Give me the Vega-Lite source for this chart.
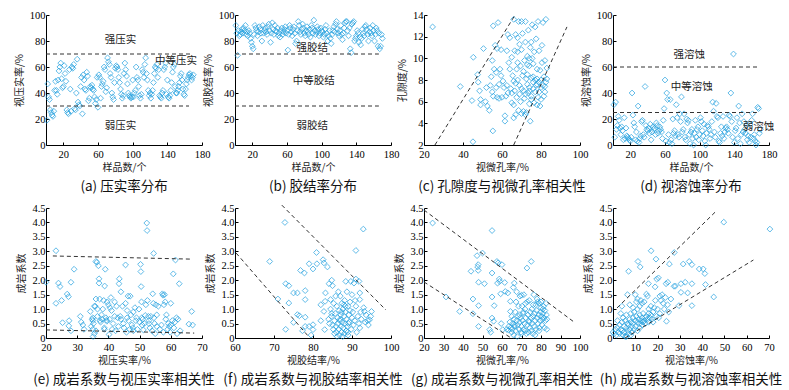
{
"$schema":"https://vega.github.io/schema/vega-lite/v6.json",
"background":"white",
"padding":{"left":14,"top":10,"right":5,"bottom":5},
"config":{
"view":{"stroke":null},
"font":"Liberation Serif",
"axis":{"grid":false,"domainColor":"#000","tickColor":"#000","tickSize":-3,"labelFont":"Liberation Serif","labelFontSize":10.5,"labelColor":"#000","titleFont":"Noto Sans CJK SC","titleFontSize":10,"titleFontWeight":"normal","titleColor":"#222","labelPadding":4},
"axisX":{"titlePadding":3,"labelPadding":7},
"axisY":{"titlePadding":5},
"title":{"font":"Noto Sans CJK SC","fontSize":13.5,"fontWeight":"normal","color":"#111","orient":"bottom","offset":7},
"text":{"font":"Noto Sans CJK SC","fontSize":10.5,"color":"#222"},
"point":{"shape":"diamond","filled":false,"color":"#1E9FE0","size":34,"strokeWidth":1},
"rule":{"color":"#333","strokeDash":[4,3],"strokeWidth":1}
},
"datasets":{
"a":[{"x":1,"y":19},{"x":2,"y":47},{"x":3,"y":37},{"x":4,"y":35},{"x":5,"y":27},{"x":6,"y":25},{"x":7,"y":23},{"x":8,"y":22},{"x":9,"y":26},{"x":10,"y":42},{"x":11,"y":49},{"x":12,"y":42},{"x":13,"y":39},{"x":14,"y":50},{"x":15,"y":57},{"x":16,"y":60},{"x":17,"y":63},{"x":18,"y":51},{"x":19,"y":44},{"x":20,"y":45},{"x":21,"y":61},{"x":22,"y":55},{"x":23,"y":49},{"x":24,"y":27},{"x":25,"y":25},{"x":26,"y":24},{"x":27,"y":58},{"x":28,"y":43},{"x":29,"y":26},{"x":30,"y":60},{"x":31,"y":59},{"x":32,"y":62},{"x":33,"y":28},{"x":34,"y":27},{"x":35,"y":40},{"x":36,"y":66},{"x":37,"y":33},{"x":38,"y":31},{"x":39,"y":30},{"x":40,"y":45},{"x":41,"y":52},{"x":42,"y":24},{"x":43,"y":54},{"x":44,"y":50},{"x":45,"y":43},{"x":46,"y":42},{"x":47,"y":56},{"x":48,"y":53},{"x":49,"y":34},{"x":50,"y":36},{"x":51,"y":45},{"x":52,"y":44},{"x":53,"y":46},{"x":54,"y":43},{"x":55,"y":42},{"x":56,"y":37},{"x":57,"y":32},{"x":58,"y":35},{"x":59,"y":52},{"x":60,"y":29},{"x":61,"y":54},{"x":62,"y":52},{"x":63,"y":36},{"x":64,"y":45},{"x":65,"y":47},{"x":66,"y":49},{"x":67,"y":60},{"x":68,"y":58},{"x":69,"y":41},{"x":70,"y":44},{"x":71,"y":67},{"x":72,"y":64},{"x":73,"y":62},{"x":74,"y":55},{"x":75,"y":52},{"x":76,"y":40},{"x":77,"y":37},{"x":78,"y":35},{"x":79,"y":48},{"x":80,"y":59},{"x":81,"y":61},{"x":82,"y":60},{"x":83,"y":58},{"x":84,"y":52},{"x":85,"y":48},{"x":86,"y":43},{"x":87,"y":39},{"x":88,"y":36},{"x":89,"y":38},{"x":90,"y":55},{"x":91,"y":63},{"x":92,"y":58},{"x":93,"y":53},{"x":94,"y":47},{"x":95,"y":40},{"x":96,"y":38},{"x":97,"y":37},{"x":98,"y":36},{"x":99,"y":37},{"x":100,"y":50},{"x":101,"y":37},{"x":102,"y":40},{"x":103,"y":42},{"x":104,"y":60},{"x":105,"y":52},{"x":106,"y":50},{"x":107,"y":45},{"x":108,"y":38},{"x":109,"y":36},{"x":110,"y":39},{"x":111,"y":58},{"x":112,"y":56},{"x":113,"y":52},{"x":114,"y":62},{"x":115,"y":67},{"x":116,"y":55},{"x":117,"y":50},{"x":118,"y":42},{"x":119,"y":38},{"x":120,"y":40},{"x":121,"y":36},{"x":122,"y":39},{"x":123,"y":42},{"x":124,"y":48},{"x":125,"y":55},{"x":126,"y":60},{"x":127,"y":59},{"x":128,"y":62},{"x":129,"y":52},{"x":130,"y":58},{"x":131,"y":38},{"x":132,"y":37},{"x":133,"y":36},{"x":134,"y":40},{"x":135,"y":42},{"x":136,"y":58},{"x":137,"y":60},{"x":138,"y":63},{"x":139,"y":39},{"x":140,"y":50},{"x":141,"y":37},{"x":142,"y":36},{"x":143,"y":38},{"x":144,"y":42},{"x":145,"y":48},{"x":146,"y":56},{"x":147,"y":60},{"x":148,"y":62},{"x":149,"y":45},{"x":150,"y":40},{"x":151,"y":40},{"x":152,"y":42},{"x":153,"y":45},{"x":154,"y":48},{"x":155,"y":53},{"x":156,"y":55},{"x":157,"y":50},{"x":158,"y":43},{"x":159,"y":39},{"x":160,"y":38},{"x":161,"y":43},{"x":162,"y":47},{"x":163,"y":50},{"x":164,"y":52},{"x":165,"y":54},{"x":166,"y":55},{"x":167,"y":53},{"x":168,"y":50},{"x":169,"y":52},{"x":170,"y":54}],
"b":[{"x":1,"y":92},{"x":2,"y":86},{"x":3,"y":69},{"x":4,"y":88},{"x":5,"y":84},{"x":6,"y":85},{"x":7,"y":87},{"x":8,"y":89},{"x":9,"y":86},{"x":10,"y":90},{"x":11,"y":88},{"x":12,"y":92},{"x":13,"y":85},{"x":14,"y":87},{"x":15,"y":84},{"x":16,"y":88},{"x":17,"y":86},{"x":18,"y":82},{"x":19,"y":79},{"x":20,"y":76},{"x":21,"y":74},{"x":22,"y":85},{"x":23,"y":92},{"x":24,"y":90},{"x":25,"y":88},{"x":26,"y":84},{"x":27,"y":87},{"x":28,"y":91},{"x":29,"y":89},{"x":30,"y":86},{"x":31,"y":80},{"x":32,"y":92},{"x":33,"y":86},{"x":34,"y":88},{"x":35,"y":90},{"x":36,"y":87},{"x":37,"y":85},{"x":38,"y":91},{"x":39,"y":93},{"x":40,"y":88},{"x":41,"y":79},{"x":42,"y":86},{"x":43,"y":94},{"x":44,"y":89},{"x":45,"y":85},{"x":46,"y":92},{"x":47,"y":88},{"x":48,"y":87},{"x":49,"y":90},{"x":50,"y":84},{"x":51,"y":86},{"x":52,"y":83},{"x":53,"y":88},{"x":54,"y":90},{"x":55,"y":85},{"x":56,"y":87},{"x":57,"y":89},{"x":58,"y":91},{"x":59,"y":86},{"x":60,"y":88},{"x":61,"y":73},{"x":62,"y":85},{"x":63,"y":92},{"x":64,"y":90},{"x":65,"y":87},{"x":66,"y":84},{"x":67,"y":89},{"x":68,"y":91},{"x":69,"y":86},{"x":70,"y":78},{"x":71,"y":80},{"x":72,"y":88},{"x":73,"y":95},{"x":74,"y":92},{"x":75,"y":87},{"x":76,"y":85},{"x":77,"y":89},{"x":78,"y":93},{"x":79,"y":90},{"x":80,"y":86},{"x":81,"y":84},{"x":82,"y":88},{"x":83,"y":91},{"x":84,"y":87},{"x":85,"y":85},{"x":86,"y":89},{"x":87,"y":83},{"x":88,"y":92},{"x":89,"y":90},{"x":90,"y":86},{"x":91,"y":96},{"x":92,"y":88},{"x":93,"y":85},{"x":94,"y":87},{"x":95,"y":91},{"x":96,"y":89},{"x":97,"y":84},{"x":98,"y":86},{"x":99,"y":90},{"x":100,"y":88},{"x":101,"y":87},{"x":102,"y":83},{"x":103,"y":85},{"x":104,"y":89},{"x":105,"y":92},{"x":106,"y":86},{"x":107,"y":80},{"x":108,"y":84},{"x":109,"y":88},{"x":110,"y":82},{"x":111,"y":78},{"x":112,"y":85},{"x":113,"y":88},{"x":114,"y":91},{"x":115,"y":87},{"x":116,"y":93},{"x":117,"y":95},{"x":118,"y":89},{"x":119,"y":86},{"x":120,"y":84},{"x":121,"y":88},{"x":122,"y":92},{"x":123,"y":85},{"x":124,"y":81},{"x":125,"y":86},{"x":126,"y":90},{"x":127,"y":94},{"x":128,"y":95},{"x":129,"y":95},{"x":130,"y":88},{"x":131,"y":84},{"x":132,"y":90},{"x":133,"y":74},{"x":134,"y":71},{"x":135,"y":93},{"x":136,"y":94},{"x":137,"y":95},{"x":138,"y":80},{"x":139,"y":82},{"x":140,"y":84},{"x":141,"y":88},{"x":142,"y":86},{"x":143,"y":79},{"x":144,"y":83},{"x":145,"y":77},{"x":146,"y":82},{"x":147,"y":89},{"x":148,"y":86},{"x":149,"y":84},{"x":150,"y":91},{"x":151,"y":92},{"x":152,"y":89},{"x":153,"y":85},{"x":154,"y":80},{"x":155,"y":87},{"x":156,"y":90},{"x":157,"y":86},{"x":158,"y":84},{"x":159,"y":92},{"x":160,"y":88},{"x":161,"y":80},{"x":162,"y":85},{"x":163,"y":90},{"x":164,"y":88},{"x":165,"y":76},{"x":166,"y":86},{"x":167,"y":74},{"x":168,"y":76},{"x":169,"y":85},{"x":170,"y":82}],
"c":[{"x":24.4,"y":12.9},{"x":38.6,"y":7.4},{"x":44.6,"y":6.1},{"x":45.1,"y":2.3},{"x":45.3,"y":10.1},{"x":47.5,"y":8.5},{"x":47.8,"y":7.8},{"x":48.5,"y":7},{"x":49,"y":6.2},{"x":49,"y":5.7},{"x":50.5,"y":10.9},{"x":51.5,"y":6},{"x":52,"y":7.3},{"x":52.5,"y":5.6},{"x":53.5,"y":5.2},{"x":54,"y":7.5},{"x":54.5,"y":8.3},{"x":55,"y":9.8},{"x":55.5,"y":13},{"x":55.3,"y":3.3},{"x":55,"y":6.9},{"x":55.5,"y":6.5},{"x":56,"y":9},{"x":56.5,"y":11.2},{"x":57,"y":7.3},{"x":57,"y":8.7},{"x":57.5,"y":6.4},{"x":57.5,"y":10.9},{"x":58,"y":13.3},{"x":58.5,"y":7.6},{"x":58.5,"y":6.3},{"x":59,"y":9},{"x":59.5,"y":8.4},{"x":59.5,"y":10.8},{"x":60,"y":6.4},{"x":60.5,"y":7.9},{"x":61,"y":7.3},{"x":61.5,"y":4.7},{"x":61.5,"y":4.2},{"x":62,"y":6.5},{"x":62.5,"y":7.5},{"x":63,"y":12.2},{"x":63,"y":6.8},{"x":64,"y":9},{"x":64.5,"y":7.2},{"x":65,"y":5.9},{"x":65,"y":10.1},{"x":65.5,"y":8.4},{"x":66,"y":13.6},{"x":66,"y":5.7},{"x":66.5,"y":10.7},{"x":66.5,"y":7},{"x":67,"y":12.2},{"x":67,"y":4.8},{"x":67.5,"y":9},{"x":67.5,"y":6.4},{"x":68,"y":10.6},{"x":68,"y":8},{"x":68.5,"y":5.2},{"x":68.5,"y":13.4},{"x":69,"y":7.5},{"x":69,"y":11.3},{"x":69.5,"y":6},{"x":69.5,"y":9.3},{"x":70,"y":10.8},{"x":70,"y":4.9},{"x":70.5,"y":8.4},{"x":70.5,"y":12.3},{"x":71,"y":7},{"x":71,"y":5.1},{"x":71.5,"y":9.8},{"x":71.5,"y":6.3},{"x":72,"y":13.4},{"x":72,"y":11.5},{"x":72.5,"y":8.1},{"x":72.5,"y":5},{"x":73,"y":7.6},{"x":73,"y":10.2},{"x":73.5,"y":6.8},{"x":73.5,"y":12.6},{"x":74,"y":9.3},{"x":74,"y":7.3},{"x":74.5,"y":4.2},{"x":74.5,"y":11},{"x":75,"y":8.2},{"x":75,"y":6.2},{"x":75.5,"y":10},{"x":75.5,"y":13.1},{"x":76,"y":7.2},{"x":76,"y":9.5},{"x":76.5,"y":5.9},{"x":76.5,"y":10.6},{"x":77,"y":8},{"x":77,"y":6.9},{"x":77.5,"y":11.8},{"x":77.5,"y":7.5},{"x":78,"y":9},{"x":78,"y":5.7},{"x":78.5,"y":13.4},{"x":78.5,"y":6.4},{"x":79,"y":7.8},{"x":79,"y":10.7},{"x":79.5,"y":8.9},{"x":79.5,"y":5.6},{"x":80,"y":7.3},{"x":80,"y":6.2},{"x":80.5,"y":9.6},{"x":81,"y":7.5},{"x":81,"y":13.3},{"x":81.5,"y":8.3},{"x":82,"y":9.8},{"x":82,"y":6.9},{"x":82.5,"y":13.6},{"x":83,"y":8.1},{"x":83,"y":9.1},{"x":82.5,"y":7.8},{"x":81.5,"y":6.5},{"x":80.5,"y":11.2},{"x":79,"y":6.9},{"x":78,"y":8.1},{"x":77,"y":12.9},{"x":76,"y":8.3},{"x":75,"y":11.5},{"x":74,"y":10},{"x":73,"y":8.5},{"x":72,"y":6.7},{"x":71,"y":8.8},{"x":70,"y":7.2},{"x":69,"y":6.7},{"x":68,"y":9.6},{"x":67,"y":7.7},{"x":66,"y":7.9},{"x":65,"y":6.8},{"x":64,"y":11.9},{"x":63.5,"y":9.6},{"x":62.5,"y":10.7},{"x":68,"y":11.9},{"x":70,"y":13.4},{"x":73,"y":9.4},{"x":74,"y":5.8},{"x":76,"y":7.8},{"x":78,"y":7.6},{"x":80,"y":8},{"x":82,"y":7.4},{"x":66,"y":4.5},{"x":72,"y":4.8},{"x":74,"y":7},{"x":75,"y":6.5}],
"d":[{"x":1,"y":31},{"x":2,"y":6},{"x":3,"y":33},{"x":4,"y":12},{"x":5,"y":15},{"x":6,"y":22},{"x":7,"y":19},{"x":8,"y":13},{"x":9,"y":8},{"x":10,"y":14},{"x":11,"y":11},{"x":12,"y":4},{"x":13,"y":21},{"x":14,"y":5},{"x":15,"y":13},{"x":16,"y":7},{"x":17,"y":6},{"x":18,"y":5},{"x":19,"y":4},{"x":20,"y":3},{"x":21,"y":6},{"x":22,"y":40},{"x":23,"y":23},{"x":24,"y":17},{"x":25,"y":14},{"x":26,"y":4},{"x":27,"y":10},{"x":28,"y":3},{"x":29,"y":30},{"x":30,"y":2},{"x":31,"y":5},{"x":32,"y":7},{"x":33,"y":18},{"x":34,"y":19},{"x":35,"y":8},{"x":36,"y":6},{"x":37,"y":45},{"x":38,"y":15},{"x":39,"y":12},{"x":40,"y":11},{"x":41,"y":13},{"x":42,"y":9},{"x":43,"y":16},{"x":44,"y":4},{"x":45,"y":10},{"x":46,"y":14},{"x":47,"y":12},{"x":48,"y":13},{"x":49,"y":8},{"x":50,"y":17},{"x":51,"y":15},{"x":52,"y":9},{"x":53,"y":11},{"x":54,"y":14},{"x":55,"y":12},{"x":56,"y":10},{"x":57,"y":5},{"x":58,"y":19},{"x":59,"y":28},{"x":60,"y":50},{"x":61,"y":3},{"x":62,"y":40},{"x":63,"y":35},{"x":64,"y":8},{"x":65,"y":2},{"x":66,"y":35},{"x":67,"y":4},{"x":68,"y":1},{"x":69,"y":20},{"x":70,"y":9},{"x":71,"y":11},{"x":72,"y":7},{"x":73,"y":31},{"x":74,"y":21},{"x":75,"y":8},{"x":76,"y":6},{"x":77,"y":24},{"x":78,"y":18},{"x":79,"y":37},{"x":80,"y":10},{"x":81,"y":12},{"x":82,"y":24},{"x":83,"y":6},{"x":84,"y":4},{"x":85,"y":20},{"x":86,"y":17},{"x":87,"y":19},{"x":88,"y":8},{"x":89,"y":1},{"x":90,"y":10},{"x":91,"y":12},{"x":92,"y":5},{"x":93,"y":0},{"x":94,"y":9},{"x":95,"y":19},{"x":96,"y":6},{"x":97,"y":12},{"x":98,"y":14},{"x":99,"y":4},{"x":100,"y":8},{"x":101,"y":21},{"x":102,"y":18},{"x":103,"y":11},{"x":104,"y":7},{"x":105,"y":16},{"x":106,"y":3},{"x":107,"y":0},{"x":108,"y":9},{"x":109,"y":15},{"x":110,"y":14},{"x":111,"y":12},{"x":112,"y":5},{"x":113,"y":8},{"x":114,"y":18},{"x":115,"y":33},{"x":116,"y":26},{"x":117,"y":10},{"x":118,"y":6},{"x":119,"y":32},{"x":120,"y":22},{"x":121,"y":21},{"x":122,"y":3},{"x":123,"y":2},{"x":124,"y":9},{"x":125,"y":14},{"x":126,"y":7},{"x":127,"y":22},{"x":128,"y":5},{"x":129,"y":10},{"x":130,"y":13},{"x":131,"y":14},{"x":132,"y":12},{"x":133,"y":9},{"x":134,"y":23},{"x":135,"y":22},{"x":136,"y":40},{"x":137,"y":18},{"x":138,"y":6},{"x":139,"y":70},{"x":140,"y":2},{"x":141,"y":11},{"x":142,"y":13},{"x":143,"y":21},{"x":144,"y":5},{"x":145,"y":30},{"x":146,"y":17},{"x":147,"y":1},{"x":148,"y":8},{"x":149,"y":24},{"x":150,"y":10},{"x":151,"y":18},{"x":152,"y":12},{"x":153,"y":9},{"x":154,"y":15},{"x":155,"y":4},{"x":156,"y":7},{"x":157,"y":2},{"x":158,"y":16},{"x":159,"y":6},{"x":160,"y":19},{"x":161,"y":24},{"x":162,"y":5},{"x":163,"y":8},{"x":164,"y":3},{"x":165,"y":0},{"x":166,"y":2},{"x":167,"y":29},{"x":168,"y":28},{"x":169,"y":9},{"x":170,"y":12}],
"e":[{"x":20,"y":1.93},{"x":23.2,"y":3.02},{"x":23.2,"y":1.2},{"x":24,"y":1.9},{"x":24.5,"y":1.78},{"x":25,"y":1.3},{"x":25.3,"y":0.53},{"x":26.8,"y":1.52},{"x":27.2,"y":1.43},{"x":27.4,"y":0.6},{"x":27.3,"y":0.42},{"x":28,"y":1.93},{"x":28,"y":0.25},{"x":29,"y":2.38},{"x":31,"y":0.75},{"x":31.3,"y":0.55},{"x":31.8,"y":0.45},{"x":32.2,"y":0.3},{"x":34.2,"y":0.92},{"x":34.8,"y":0.65},{"x":35,"y":0.6},{"x":35,"y":0.7},{"x":35.2,"y":0.5},{"x":35,"y":0.3},{"x":35.1,"y":0.05},{"x":35.5,"y":0.15},{"x":35.8,"y":1.1},{"x":36,"y":1.35},{"x":36,"y":2.65},{"x":36.3,"y":2.62},{"x":36.5,"y":1.0},{"x":36.5,"y":0.75},{"x":36.8,"y":2.5},{"x":37,"y":1.9},{"x":37,"y":2.05},{"x":37.2,"y":1.35},{"x":37.3,"y":0.6},{"x":37.5,"y":0.55},{"x":37.8,"y":0.8},{"x":38,"y":0.65},{"x":38.2,"y":1.0},{"x":38.5,"y":1.3},{"x":38.7,"y":0.35},{"x":38.7,"y":0.3},{"x":38.8,"y":1.8},{"x":39,"y":2.38},{"x":39.2,"y":0.7},{"x":39.4,"y":0.62},{"x":39.6,"y":1.25},{"x":40,"y":1.15},{"x":40.2,"y":0.12},{"x":40.5,"y":1.05},{"x":40.8,"y":1.4},{"x":41,"y":0.95},{"x":41.2,"y":0.3},{"x":41.5,"y":0.5},{"x":42,"y":0.75},{"x":42.3,"y":0.25},{"x":42.6,"y":1.1},{"x":43,"y":0.7},{"x":43.2,"y":0.4},{"x":43.4,"y":1.88},{"x":43.5,"y":2.05},{"x":43.8,"y":0.75},{"x":44,"y":1.6},{"x":44.5,"y":1.1},{"x":44.8,"y":0.5},{"x":45,"y":0.35},{"x":45.5,"y":2.53},{"x":45.5,"y":1.2},{"x":45.8,"y":0.2},{"x":46,"y":0.7},{"x":46.3,"y":1.45},{"x":46.5,"y":0.6},{"x":46.8,"y":0.3},{"x":47,"y":1.45},{"x":47.2,"y":0.8},{"x":47.5,"y":0.45},{"x":47.8,"y":0.35},{"x":48,"y":0.9},{"x":48.5,"y":1.05},{"x":48.8,"y":0.6},{"x":49,"y":0.7},{"x":49.3,"y":0.3},{"x":49.8,"y":1.0},{"x":50,"y":0.55},{"x":50.3,"y":2.55},{"x":50.4,"y":2.3},{"x":50.5,"y":1.78},{"x":50.6,"y":1.25},{"x":50.7,"y":0.7},{"x":50.8,"y":0.45},{"x":51,"y":0.65},{"x":51.2,"y":0.28},{"x":51.5,"y":0.5},{"x":51.8,"y":0.78},{"x":52,"y":1.15},{"x":52.3,"y":3.98},{"x":52.4,"y":3.72},{"x":52.5,"y":1.3},{"x":52.8,"y":0.75},{"x":53,"y":0.6},{"x":53.3,"y":0.35},{"x":53.6,"y":0.75},{"x":54,"y":0.25},{"x":54.2,"y":1.53},{"x":54.4,"y":1.2},{"x":54.5,"y":2.93},{"x":54.6,"y":0.7},{"x":54.8,"y":0.5},{"x":55,"y":0.15},{"x":55.2,"y":1.15},{"x":55.5,"y":0.4},{"x":56,"y":1.1},{"x":56.5,"y":0.3},{"x":57,"y":0.45},{"x":57.3,"y":1.53},{"x":57.5,"y":1.48},{"x":57.6,"y":0.2},{"x":57.8,"y":1.15},{"x":58,"y":1.5},{"x":58.2,"y":1.25},{"x":58.4,"y":0.65},{"x":58.6,"y":0.8},{"x":59,"y":0.3},{"x":59.2,"y":0.5},{"x":59.5,"y":0.4},{"x":59.8,"y":0.2},{"x":60,"y":1.2},{"x":60.5,"y":0.6},{"x":60.8,"y":2.22},{"x":61,"y":0.35},{"x":61.3,"y":0.55},{"x":61.5,"y":2.7},{"x":61.8,"y":0.7},{"x":62,"y":0.15},{"x":62.3,"y":0.65},{"x":62.7,"y":1.88},{"x":63,"y":0.25},{"x":65.8,"y":0.48},{"x":66.7,"y":0.92},{"x":67,"y":0.45},{"x":39.5,"y":0.58},{"x":36,"y":0.25},{"x":40.4,"y":0.65},{"x":44,"y":0.65},{"x":48,"y":0.25},{"x":53,"y":0.5},{"x":55.5,"y":0.8},{"x":60,"y":0.45},{"x":42,"y":1.25},{"x":46,"y":0.95},{"x":34.5,"y":0.4},{"x":35.5,"y":1.1}],
"f":[{"x":68.9,"y":2.65},{"x":72.8,"y":4.0},{"x":71,"y":1.35},{"x":73,"y":1.88},{"x":73,"y":0.3},{"x":73.8,"y":1.81},{"x":73.8,"y":1.21},{"x":75,"y":1.56},{"x":75,"y":0.54},{"x":76,"y":1.56},{"x":76,"y":0.81},{"x":76.5,"y":0.77},{"x":76.8,"y":2.34},{"x":77.3,"y":0.25},{"x":77.8,"y":2.25},{"x":78,"y":1.64},{"x":78,"y":1.33},{"x":78,"y":0.72},{"x":78,"y":0.4},{"x":79,"y":2.57},{"x":79,"y":0.4},{"x":79.5,"y":0.1},{"x":80,"y":2.39},{"x":80,"y":0.46},{"x":80,"y":0.29},{"x":80.9,"y":2.96},{"x":81,"y":2.57},{"x":82,"y":1.15},{"x":82,"y":0.6},{"x":82.6,"y":2.71},{"x":82.8,"y":2.6},{"x":83.7,"y":2.46},{"x":83.2,"y":1.56},{"x":83.1,"y":1.27},{"x":82.8,"y":0.92},{"x":83,"y":0.29},{"x":84.1,"y":1.88},{"x":84.8,"y":2.0},{"x":85,"y":1.81},{"x":84.5,"y":1.33},{"x":84,"y":0.65},{"x":84.2,"y":0.5},{"x":84.5,"y":1.0},{"x":84.7,"y":0.75},{"x":85,"y":0.45},{"x":85.2,"y":0.3},{"x":85.3,"y":1.2},{"x":85.5,"y":0.6},{"x":85.7,"y":0.85},{"x":85.9,"y":0.4},{"x":86,"y":0.2},{"x":86.1,"y":1.1},{"x":86.3,"y":0.7},{"x":86.4,"y":0.5},{"x":86.6,"y":0.3},{"x":86.7,"y":0.95},{"x":86.8,"y":0.1},{"x":87,"y":1.45},{"x":87,"y":0.65},{"x":87.1,"y":0.8},{"x":87.2,"y":0.4},{"x":87.3,"y":0.2},{"x":87.4,"y":1.2},{"x":87.5,"y":0.55},{"x":87.6,"y":0.05},{"x":87.7,"y":1.0},{"x":87.8,"y":0.35},{"x":88,"y":0.75},{"x":88,"y":0.15},{"x":88.1,"y":1.3},{"x":88.2,"y":0.5},{"x":88.3,"y":0.9},{"x":88.4,"y":1.96},{"x":88.5,"y":0.25},{"x":88.6,"y":0.65},{"x":88.7,"y":1.6},{"x":88.8,"y":0.4},{"x":89,"y":1.1},{"x":89,"y":0.1},{"x":89.2,"y":0.8},{"x":89.3,"y":0.55},{"x":89.5,"y":1.25},{"x":89.7,"y":1.96},{"x":89.8,"y":0.3},{"x":90,"y":0.7},{"x":90,"y":1.5},{"x":90.2,"y":0.9},{"x":90.4,"y":0.45},{"x":90.5,"y":1.9},{"x":90.7,"y":0.6},{"x":91,"y":2.04},{"x":91,"y":3.03},{"x":91,"y":1.1},{"x":91.2,"y":0.2},{"x":91.5,"y":0.75},{"x":91.8,"y":1.96},{"x":91.8,"y":0.5},{"x":92,"y":1.56},{"x":92,"y":1.33},{"x":92,"y":0.35},{"x":92.2,"y":0.9},{"x":92.4,"y":0.65},{"x":92.9,"y":3.77},{"x":93,"y":1.05},{"x":93.2,"y":0.92},{"x":93.4,"y":0.55},{"x":93.6,"y":0.8},{"x":94,"y":0.6},{"x":94.2,"y":0.45},{"x":94.5,"y":0.63},{"x":94.8,"y":0.75},{"x":95,"y":0.92},{"x":86.5,"y":1.6},{"x":85.8,"y":1.45},{"x":87.9,"y":1.15},{"x":89.5,"y":0.95},{"x":90.8,"y":1.3},{"x":86.2,"y":0.05},{"x":88.9,"y":0.2},{"x":84.8,"y":0.85},{"x":85.5,"y":0.15},{"x":87.3,"y":0.9},{"x":89.1,"y":0.5},{"x":88.3,"y":1.1},{"x":86.9,"y":0.6}],
"g":[{"x":24.4,"y":3.98},{"x":31.3,"y":1.42},{"x":38.3,"y":0.92},{"x":44.1,"y":2.31},{"x":45.1,"y":1.35},{"x":45.1,"y":0.84},{"x":47.2,"y":2.85},{"x":47.5,"y":2.46},{"x":47.8,"y":2.54},{"x":47.8,"y":2.34},{"x":48,"y":1.93},{"x":48,"y":1.12},{"x":48,"y":0.4},{"x":50,"y":2.94},{"x":51,"y":1.88},{"x":53.7,"y":0.29},{"x":54.2,"y":0.2},{"x":54.9,"y":3.72},{"x":54.9,"y":2.25},{"x":54.9,"y":1.42},{"x":54.9,"y":0.69},{"x":55.7,"y":0.58},{"x":56,"y":1.12},{"x":57.4,"y":2.65},{"x":57.7,"y":1.9},{"x":58,"y":2.6},{"x":58.6,"y":2.04},{"x":58.8,"y":1.96},{"x":59.3,"y":1.53},{"x":59.6,"y":0.5},{"x":60,"y":2.54},{"x":60.4,"y":0.29},{"x":61.4,"y":1.92},{"x":61.7,"y":1.61},{"x":63,"y":1.56},{"x":63.4,"y":0.27},{"x":64.3,"y":1.27},{"x":64.3,"y":0.92},{"x":64,"y":0.55},{"x":64.5,"y":0.35},{"x":65,"y":0.2},{"x":65,"y":0.75},{"x":65.5,"y":0.5},{"x":65.8,"y":1.75},{"x":66,"y":0.65},{"x":66,"y":0.1},{"x":66.3,"y":1.9},{"x":66.5,"y":0.4},{"x":66.8,"y":0.9},{"x":67,"y":0.25},{"x":67.2,"y":1.25},{"x":67.5,"y":0.6},{"x":67.8,"y":0.05},{"x":68,"y":0.45},{"x":68.2,"y":0.75},{"x":68.5,"y":1.1},{"x":68.8,"y":0.3},{"x":69,"y":0.55},{"x":69.2,"y":1.45},{"x":69.5,"y":0.7},{"x":69.8,"y":0.2},{"x":70,"y":1.48},{"x":70,"y":0.4},{"x":70.3,"y":1.1},{"x":70.5,"y":0.6},{"x":70.8,"y":0.85},{"x":71,"y":0.3},{"x":71.2,"y":1.5},{"x":71.5,"y":0.5},{"x":71.8,"y":1.0},{"x":72,"y":0.25},{"x":72.2,"y":0.7},{"x":72.5,"y":0.15},{"x":72.8,"y":2.42},{"x":73,"y":0.45},{"x":73,"y":1.25},{"x":73.3,"y":0.8},{"x":73.5,"y":0.2},{"x":73.8,"y":0.6},{"x":74,"y":1.3},{"x":74.2,"y":0.35},{"x":74.5,"y":0.9},{"x":74.8,"y":0.7},{"x":75,"y":2.65},{"x":75,"y":0.25},{"x":75.3,"y":1.0},{"x":75.5,"y":0.5},{"x":75.8,"y":0.15},{"x":76,"y":0.75},{"x":76.3,"y":1.5},{"x":76.5,"y":0.4},{"x":76.8,"y":0.85},{"x":77,"y":0.6},{"x":77.3,"y":1.15},{"x":77.5,"y":0.3},{"x":77.8,"y":0.95},{"x":78,"y":0.7},{"x":78.3,"y":1.25},{"x":78.5,"y":0.5},{"x":78.8,"y":0.8},{"x":79,"y":1.2},{"x":79.2,"y":0.35},{"x":79.5,"y":0.6},{"x":79.8,"y":0.9},{"x":80,"y":1.05},{"x":80.2,"y":0.75},{"x":80.5,"y":0.45},{"x":80.8,"y":0.65},{"x":81,"y":0.85},{"x":81.3,"y":1.1},{"x":81.5,"y":0.7},{"x":81.8,"y":0.35},{"x":82,"y":0.95},{"x":82.3,"y":0.6},{"x":82.6,"y":1.2},{"x":82.8,"y":0.8},{"x":83,"y":0.3},{"x":83,"y":0.65},{"x":63.5,"y":0.4},{"x":65.2,"y":0.3},{"x":67.5,"y":1.6},{"x":69,"y":0.8},{"x":71,"y":0.9},{"x":74,"y":0.55},{"x":76,"y":1.15},{"x":78,"y":1.35},{"x":80,"y":1.25},{"x":62.5,"y":0.3},{"x":66.5,"y":0.45},{"x":70,"y":0.15},{"x":72,"y":1.2},{"x":77,"y":0.1},{"x":79,"y":0.25},{"x":81,"y":1.0}],
"h":[{"x":49.7,"y":4.01},{"x":70.4,"y":3.77},{"x":17.1,"y":3.02},{"x":11.2,"y":2.65},{"x":7,"y":2.31},{"x":12.2,"y":2.46},{"x":19.3,"y":2.73},{"x":27.5,"y":2.96},{"x":25.3,"y":2.56},{"x":31.5,"y":2.56},{"x":34.2,"y":2.65},{"x":35.4,"y":2.54},{"x":38.7,"y":2.39},{"x":40.5,"y":2.39},{"x":41.2,"y":2.23},{"x":32.4,"y":1.93},{"x":30.5,"y":1.88},{"x":27.4,"y":1.79},{"x":35.4,"y":1.88},{"x":41.5,"y":1.85},{"x":33.5,"y":1.56},{"x":30.5,"y":1.58},{"x":45.2,"y":1.42},{"x":35.4,"y":1.12},{"x":29.6,"y":1.12},{"x":23.8,"y":1.88},{"x":24.6,"y":1.93},{"x":19.6,"y":2.04},{"x":20.4,"y":2.08},{"x":15.9,"y":1.88},{"x":18.9,"y":1.77},{"x":6.5,"y":1.5},{"x":7.5,"y":1.15},{"x":10,"y":1.5},{"x":10.5,"y":1.25},{"x":11,"y":1.35},{"x":12,"y":1.1},{"x":12.5,"y":1.3},{"x":13,"y":1.2},{"x":14,"y":1.25},{"x":15,"y":1.52},{"x":15.5,"y":1.45},{"x":16,"y":1.0},{"x":17,"y":1.1},{"x":18,"y":0.9},{"x":18.5,"y":1.05},{"x":19,"y":1.3},{"x":19.5,"y":0.75},{"x":20,"y":1.0},{"x":21,"y":1.45},{"x":21.5,"y":1.3},{"x":22,"y":1.5},{"x":22.5,"y":1.2},{"x":23,"y":1.0},{"x":23.5,"y":1.4},{"x":24,"y":0.58},{"x":24.5,"y":1.15},{"x":25,"y":0.9},{"x":26,"y":1.35},{"x":28,"y":1.8},{"x":20.5,"y":0.7},{"x":21,"y":0.85},{"x":17.5,"y":0.65},{"x":16,"y":0.85},{"x":14.5,"y":0.7},{"x":13.5,"y":0.55},{"x":0,"y":0.2},{"x":0.5,"y":0.15},{"x":1,"y":0.3},{"x":1.5,"y":0.1},{"x":2,"y":0.35},{"x":2.5,"y":0.2},{"x":3,"y":0.45},{"x":3,"y":0.15},{"x":3.5,"y":0.3},{"x":4,"y":0.55},{"x":4,"y":0.25},{"x":4.5,"y":0.1},{"x":4.5,"y":0.7},{"x":5,"y":0.4},{"x":5,"y":0.2},{"x":5.5,"y":0.6},{"x":5.5,"y":0.05},{"x":6,"y":0.35},{"x":6,"y":0.8},{"x":6.5,"y":0.25},{"x":6.5,"y":0.5},{"x":7,"y":0.45},{"x":7,"y":0.15},{"x":7.5,"y":0.65},{"x":7.5,"y":0.3},{"x":8,"y":0.55},{"x":8,"y":0.85},{"x":8.5,"y":0.4},{"x":8.5,"y":0.2},{"x":9,"y":0.7},{"x":9,"y":0.5},{"x":9.5,"y":0.3},{"x":9.5,"y":0.9},{"x":10,"y":0.6},{"x":10,"y":0.4},{"x":10.5,"y":0.75},{"x":11,"y":0.55},{"x":11,"y":0.25},{"x":11.5,"y":0.65},{"x":12,"y":0.5},{"x":12,"y":0.8},{"x":12.5,"y":0.6},{"x":13,"y":0.45},{"x":13,"y":0.7},{"x":13.5,"y":0.85},{"x":14,"y":0.6},{"x":14.5,"y":0.5},{"x":15,"y":0.75},{"x":15.5,"y":0.65},{"x":16,"y":0.55},{"x":16.5,"y":0.7},{"x":17,"y":0.8},{"x":18,"y":0.55},{"x":4,"y":1.1},{"x":3.5,"y":0.85},{"x":2,"y":0.6},{"x":9,"y":1.05},{"x":11,"y":1.0},{"x":12,"y":0.35},{"x":8,"y":0.1},{"x":6,"y":0.05}],
"ra":[{"x":0,"x2":168,"y":70,"y2":70},{"x":0,"x2":165,"y":30,"y2":30}],
"rb":[{"x":0,"x2":166,"y":70,"y2":70},{"x":0,"x2":166,"y":30,"y2":30}],
"rc":[{"x":25.6,"y":2,"x2":66.7,"y2":14},{"x":66,"y":2,"x2":93.3,"y2":12.9}],
"rd":[{"x":0,"x2":168,"y":60,"y2":60},{"x":0,"x2":166,"y":25,"y2":25}],
"re":[{"x":22.2,"y":2.84,"x2":66.8,"y2":2.73},{"x":20,"y":0.28,"x2":67.5,"y2":0.17}],
"rf":[{"x":72,"y":4.6,"x2":98.7,"y2":0.97},{"x":60.3,"y":2.94,"x2":79,"y2":0.03}],
"rg":[{"x":20,"y":4.43,"x2":97,"y2":0.55},{"x":20,"y":1.94,"x2":64,"y2":0.03}],
"rh":[{"x":1.8,"y":1.04,"x2":46.4,"y2":4.4},{"x":5.4,"y":0,"x2":63,"y2":2.7}],
"ta":[{"x":86,"y":81,"t":"强压实"},{"x":150,"y":65,"t":"中等压实"},{"x":86,"y":15,"t":"弱压实"}],
"tb":[{"x":89,"y":75,"t":"强胶结"},{"x":91,"y":49,"t":"中等胶结"},{"x":89,"y":15,"t":"弱胶结"}],
"td":[{"x":88,"y":69,"t":"强溶蚀"},{"x":91,"y":45,"t":"中等溶蚀"},{"x":168,"y":14,"t":"弱溶蚀"}]
},
"concat":[
{"width":156,"height":130,"title":"(a) 压实率分布","layer":[
 {"data":{"name":"a"},"mark":"point","encoding":{"x":{"field":"x","type":"quantitative","scale":{"domain":[0,180],"nice":false},"axis":{"title":"样品数/个","tickCount":9,"labelOverlap":false,"labelFlush":false,"labelExpr":"datum.value % 40 == 20 ? datum.label : ''","tickColor":{"condition":{"test":"datum.value % 40 == 20","value":"#000"},"value":"transparent"}}},"y":{"field":"y","type":"quantitative","scale":{"domain":[0,100],"nice":false},"axis":{"title":"视压实率/%","tickCount":5,"labelOverlap":false,"labelFlush":false}}}},
 {"data":{"name":"ra"},"mark":"rule","encoding":{"x":{"field":"x","type":"quantitative"},"x2":{"field":"x2"},"y":{"field":"y","type":"quantitative"},"y2":{"field":"y2"}}},
 {"data":{"name":"ta"},"mark":"text","encoding":{"x":{"field":"x","type":"quantitative"},"y":{"field":"y","type":"quantitative"},"text":{"field":"t"}}}
]},
{"width":156,"height":130,"title":"(b) 胶结率分布","layer":[
 {"data":{"name":"b"},"mark":"point","encoding":{"x":{"field":"x","type":"quantitative","scale":{"domain":[0,180],"nice":false},"axis":{"title":"样品数/个","tickCount":9,"labelOverlap":false,"labelFlush":false,"labelExpr":"datum.value % 40 == 20 ? datum.label : ''","tickColor":{"condition":{"test":"datum.value % 40 == 20","value":"#000"},"value":"transparent"}}},"y":{"field":"y","type":"quantitative","scale":{"domain":[0,100],"nice":false},"axis":{"title":"视胶结率/%","tickCount":5,"labelOverlap":false,"labelFlush":false}}}},
 {"data":{"name":"rb"},"mark":"rule","encoding":{"x":{"field":"x","type":"quantitative"},"x2":{"field":"x2"},"y":{"field":"y","type":"quantitative"},"y2":{"field":"y2"}}},
 {"data":{"name":"tb"},"mark":"text","encoding":{"x":{"field":"x","type":"quantitative"},"y":{"field":"y","type":"quantitative"},"text":{"field":"t"}}}
]},
{"width":156,"height":130,"title":"(c) 孔隙度与视微孔率相关性","layer":[
 {"data":{"name":"c"},"mark":"point","encoding":{"x":{"field":"x","type":"quantitative","scale":{"domain":[20,100],"nice":false},"axis":{"title":"视微孔率/%","tickCount":4,"labelOverlap":false,"labelFlush":false}},"y":{"field":"y","type":"quantitative","scale":{"domain":[2,14],"nice":false,"zero":false},"axis":{"title":"孔隙度/%","tickCount":6,"labelOverlap":false,"labelFlush":false}}}},
 {"data":{"name":"rc"},"mark":"rule","encoding":{"x":{"field":"x","type":"quantitative"},"x2":{"field":"x2"},"y":{"field":"y","type":"quantitative"},"y2":{"field":"y2"}}}
]},
{"width":156,"height":130,"title":"(d) 视溶蚀率分布","layer":[
 {"data":{"name":"d"},"mark":"point","encoding":{"x":{"field":"x","type":"quantitative","scale":{"domain":[0,180],"nice":false},"axis":{"title":"样品数/个","tickCount":9,"labelOverlap":false,"labelFlush":false,"labelExpr":"datum.value % 40 == 20 ? datum.label : ''","tickColor":{"condition":{"test":"datum.value % 40 == 20","value":"#000"},"value":"transparent"}}},"y":{"field":"y","type":"quantitative","scale":{"domain":[0,100],"nice":false},"axis":{"title":"视溶蚀率/%","tickCount":5,"labelOverlap":false,"labelFlush":false}}}},
 {"data":{"name":"rd"},"mark":"rule","encoding":{"x":{"field":"x","type":"quantitative"},"x2":{"field":"x2"},"y":{"field":"y","type":"quantitative"},"y2":{"field":"y2"}}},
 {"data":{"name":"td"},"mark":"text","encoding":{"x":{"field":"x","type":"quantitative"},"y":{"field":"y","type":"quantitative"},"text":{"field":"t"}}}
]},
{"width":156,"height":130,"title":"(e) 成岩系数与视压实率相关性","layer":[
 {"data":{"name":"e"},"mark":"point","encoding":{"x":{"field":"x","type":"quantitative","scale":{"domain":[20,70],"nice":false},"axis":{"title":"视压实率/%","tickCount":5,"labelOverlap":false,"labelFlush":false}},"y":{"field":"y","type":"quantitative","scale":{"domain":[0,4.5],"nice":false},"axis":{"title":"成岩系数","tickCount":9,"labelOverlap":false,"labelFlush":false,"labelExpr":"datum.value == 0 ? '0' : format(datum.value, '.1f')"}}}},
 {"data":{"name":"re"},"mark":"rule","encoding":{"x":{"field":"x","type":"quantitative"},"x2":{"field":"x2"},"y":{"field":"y","type":"quantitative"},"y2":{"field":"y2"}}}
]},
{"width":156,"height":130,"title":"(f) 成岩系数与视胶结率相关性","layer":[
 {"data":{"name":"f"},"mark":"point","encoding":{"x":{"field":"x","type":"quantitative","scale":{"domain":[60,100],"nice":false,"zero":false},"axis":{"title":"视胶结率/%","tickCount":4,"labelOverlap":false,"labelFlush":false}},"y":{"field":"y","type":"quantitative","scale":{"domain":[0,4.5],"nice":false},"axis":{"title":"成岩系数","tickCount":9,"labelOverlap":false,"labelFlush":false,"labelExpr":"datum.value == 0 ? '0' : format(datum.value, '.1f')"}}}},
 {"data":{"name":"rf"},"mark":"rule","encoding":{"x":{"field":"x","type":"quantitative"},"x2":{"field":"x2"},"y":{"field":"y","type":"quantitative"},"y2":{"field":"y2"}}}
]},
{"width":156,"height":130,"title":"(g) 成岩系数与视微孔率相关性","layer":[
 {"data":{"name":"g"},"mark":"point","encoding":{"x":{"field":"x","type":"quantitative","scale":{"domain":[20,100],"nice":false},"axis":{"title":"视微孔率/%","tickCount":8,"labelOverlap":false,"labelFlush":false}},"y":{"field":"y","type":"quantitative","scale":{"domain":[0,4.5],"nice":false},"axis":{"title":"成岩系数","tickCount":9,"labelOverlap":false,"labelFlush":false,"labelExpr":"datum.value == 0 ? '0' : format(datum.value, '.1f')"}}}},
 {"data":{"name":"rg"},"mark":"rule","encoding":{"x":{"field":"x","type":"quantitative"},"x2":{"field":"x2"},"y":{"field":"y","type":"quantitative"},"y2":{"field":"y2"}}}
]},
{"width":156,"height":130,"title":"(h) 成岩系数与视溶蚀率相关性","layer":[
 {"data":{"name":"h"},"mark":"point","encoding":{"x":{"field":"x","type":"quantitative","scale":{"domain":[0,70],"nice":false},"axis":{"title":"视溶蚀率/%","tickCount":7,"labelOverlap":false,"labelFlush":false,"labelExpr":"datum.value == 0 ? '' : datum.label"}},"y":{"field":"y","type":"quantitative","scale":{"domain":[0,4.5],"nice":false},"axis":{"title":"成岩系数","tickCount":9,"labelOverlap":false,"labelFlush":false,"labelExpr":"datum.value == 0 ? '0' : format(datum.value, '.1f')"}}}},
 {"data":{"name":"rh"},"mark":"rule","encoding":{"x":{"field":"x","type":"quantitative"},"x2":{"field":"x2"},"y":{"field":"y","type":"quantitative"},"y2":{"field":"y2"}}}
]}
],
"columns":4,
"spacing":{"row":63,"column":33},
"bounds":"flush"
}
